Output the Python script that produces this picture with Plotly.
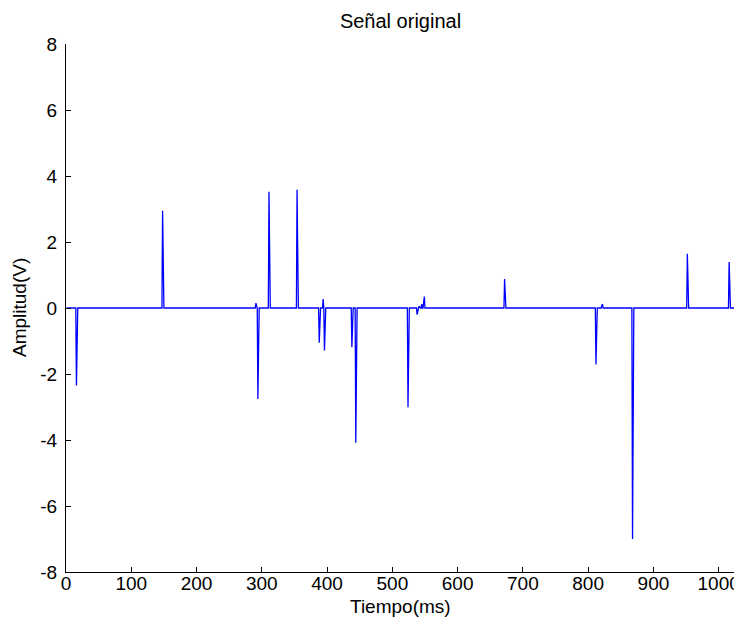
import numpy as np
import plotly.graph_objects as go

# Signal: 1024 samples (1 ms each); nonzero samples
n_samples = 1024
spike_times = [16, 148, 291, 294, 311, 354, 388, 394, 396, 438, 444, 524,
               538, 541, 545, 548, 549, 672, 812, 821, 822, 868, 952, 1016]
spike_amps = [-2.35, 2.95, 0.15, -2.76, 3.52, 3.58, -1.05, 0.27, -1.29, -1.19, -4.08, -3.01,
              -0.20, 0.05, 0.12, 0.18, 0.35, 0.88, -1.71, 0.08, 0.12, -7.0, 1.64, 1.39]

x_ticks = [0, 100, 200, 300, 400, 500, 600, 700, 800, 900, 1000]
y_ticks = [-8, -6, -4, -2, 0, 2, 4, 6, 8]
y_tick_labels = ["-8", "-6", "-4", "-2", "0", "2", "4", "6", "8"]

t = np.arange(1, n_samples + 1)
signal = np.zeros(n_samples)
for ti, a in zip(spike_times, spike_amps):
    signal[ti - 1] = a

fig = go.Figure()
fig.add_trace(go.Scatter(x=t, y=signal, mode="lines",
                         line=dict(color="rgb(0,0,255)", width=1.3),
                         hoverinfo="skip"))

FS = 19
FAM = "Liberation Sans, Arial, sans-serif"
font = dict(family=FAM, size=FS, color="black")
# page body has an 8px margin; figure sized to fit the window
W, H = 734, 614
ML, MR, MT, MB = 58, 7, 36, 50
fig.update_layout(
    width=W, height=H,
    margin=dict(l=ML, r=MR, t=MT, b=MB),
    paper_bgcolor="white", plot_bgcolor="white",
    showlegend=False,
    font=font,
    title=dict(text="Señal original", x=0.5, xref="paper", xanchor="center",
               y=1 - 13 / H, yanchor="middle", font=dict(size=20)),
    xaxis=dict(range=[0, 1025], tickvals=x_ticks, ticks="inside", ticklen=5,
               tickcolor="black", showline=True, linecolor="black", linewidth=1,
               showgrid=False, zeroline=False, mirror=False, automargin=False,
               ticklabelstandoff=-6, tickfont=dict(size=FS)),
    yaxis=dict(range=[-8, 8], tickvals=y_ticks, ticktext=y_tick_labels,
               ticks="inside", ticklen=5,
               tickcolor="black", showline=True, linecolor="black", linewidth=1,
               showgrid=False, zeroline=False, mirror=False, automargin=False,
               ticklabelstandoff=4, tickfont=dict(size=FS)),
    annotations=[
        dict(text="Tiempo(ms)", xref="paper", yref="paper", x=0.5, y=0,
             xanchor="center", yanchor="middle", yshift=-34, showarrow=False,
             font=dict(size=FS)),
        dict(text="Amplitud(V)", xref="paper", yref="paper", x=0, y=0.5,
             xanchor="center", yanchor="middle", xshift=-47, textangle=-90,
             showarrow=False, font=dict(size=FS)),
    ],
)

fig.write_html("out.html")
